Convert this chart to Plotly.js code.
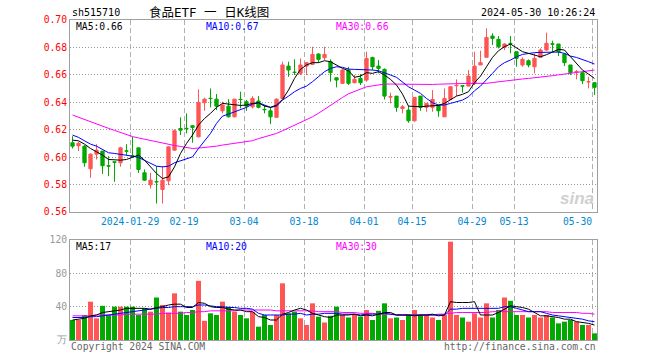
<!DOCTYPE html>
<html><head><meta charset="utf-8">
<script src="https://cdn.plot.ly/plotly-3.0.1.min.js"></script>
<style>html,body{margin:0;padding:0;background:#fff}#chart{width:660px;height:360px}</style>
</head><body><div id="chart"></div>
<script>
const dates = ['2024-01-15','2024-01-16','2024-01-17','2024-01-18','2024-01-19','2024-01-22','2024-01-23','2024-01-24','2024-01-25','2024-01-26',
'2024-01-29','2024-01-30','2024-01-31','2024-02-01','2024-02-02','2024-02-05','2024-02-06','2024-02-07','2024-02-08','2024-02-19',
'2024-02-20','2024-02-21','2024-02-22','2024-02-23','2024-02-26','2024-02-27','2024-02-28','2024-02-29','2024-03-01','2024-03-04',
'2024-03-05','2024-03-06','2024-03-07','2024-03-08','2024-03-11','2024-03-12','2024-03-13','2024-03-14','2024-03-15','2024-03-18',
'2024-03-19','2024-03-20','2024-03-21','2024-03-22','2024-03-25','2024-03-26','2024-03-27','2024-03-28','2024-03-29','2024-04-01',
'2024-04-02','2024-04-03','2024-04-08','2024-04-09','2024-04-10','2024-04-11','2024-04-12','2024-04-15','2024-04-16','2024-04-17',
'2024-04-18','2024-04-19','2024-04-22','2024-04-23','2024-04-24','2024-04-25','2024-04-26','2024-04-29','2024-04-30','2024-05-06',
'2024-05-07','2024-05-08','2024-05-09','2024-05-10','2024-05-13','2024-05-14','2024-05-15','2024-05-16','2024-05-17','2024-05-20',
'2024-05-21','2024-05-22','2024-05-23','2024-05-24','2024-05-27','2024-05-28','2024-05-29','2024-05-30'];

const openP = [.6105,.6083,.6080,.5915,.6022,.6044,.5937,.5966,.5959,.6046,
.6010,.6068,.5886,.5798,.5822,.5764,.5827,.6051,.6209,.6210,
.6229,.6148,.6397,.6429,.6423,.6338,.6372,.6294,.6422,.6404,
.6367,.6409,.6348,.6338,.6290,.6428,.6664,.6619,.6611,.6664,
.6676,.6752,.6725,.6696,.6579,.6538,.6635,.6543,.6574,.6562,
.6727,.6664,.6640,.6438,.6445,.6355,.6343,.6265,.6445,.6363,
.6363,.6380,.6294,.6421,.6521,.6521,.6518,.6538,.6672,.6728,
.6883,.6859,.6800,.6830,.6769,.6672,.6703,.6659,.6728,.6781,
.6826,.6825,.6752,.6672,.6622,.6616,.6549,.6543];
const highP = [.6153,.6112,.6088,.6027,.6095,.6044,.6007,.5966,.6075,.6095,
.6148,.6068,.5910,.5886,.5934,.5934,.6075,.6202,.6290,.6319,
.6234,.6494,.6433,.6501,.6460,.6404,.6423,.6423,.6477,.6416,
.6445,.6445,.6380,.6363,.6428,.6696,.6696,.6713,.6720,.6689,
.6805,.6757,.6805,.6713,.6582,.6640,.6659,.6599,.6606,.6769,
.6732,.6708,.6647,.6470,.6445,.6380,.6372,.6436,.6445,.6392,
.6489,.6380,.6501,.6518,.6567,.6526,.6635,.6769,.6776,.6939,
.6903,.6883,.6830,.6883,.6769,.6727,.6713,.6757,.6793,.6908,
.6849,.6825,.6757,.6672,.6635,.6616,.6586,.6543];
const lowP = [.6063,.6044,.5930,.5849,.5983,.5878,.5861,.5820,.5930,.6015,
.6002,.5886,.5827,.5771,.5662,.5662,.5796,.6046,.6161,.6173,
.6105,.6144,.6338,.6363,.6343,.6319,.6290,.6290,.6355,.6338,
.6355,.6355,.6319,.6241,.6290,.6428,.6586,.6599,.6599,.6599,
.6672,.6689,.6708,.6550,.6509,.6533,.6526,.6538,.6526,.6550,
.6635,.6611,.6421,.6392,.6331,.6319,.6251,.6258,.6338,.6331,
.6331,.6294,.6294,.6416,.6445,.6470,.6518,.6526,.6672,.6728,
.6818,.6793,.6781,.6757,.6659,.6659,.6655,.6611,.6728,.6776,
.6769,.6737,.6664,.6599,.6567,.6533,.6501,.6453];
const closeP = [.6080,.6100,.5959,.6022,.6051,.5937,.5935,.5963,.6068,.6044,
.6007,.5910,.5832,.5832,.5820,.5832,.6075,.6192,.6197,.6208,
.6217,.6399,.6423,.6427,.6372,.6380,.6294,.6423,.6420,.6372,
.6428,.6363,.6346,.6294,.6423,.6672,.6635,.6618,.6672,.6689,
.6749,.6713,.6749,.6616,.6562,.6635,.6538,.6567,.6543,.6720,
.6659,.6647,.6445,.6441,.6363,.6367,.6265,.6436,.6363,.6392,
.6421,.6338,.6428,.6513,.6523,.6518,.6591,.6664,.6689,.6873,
.6866,.6805,.6825,.6828,.6720,.6713,.6672,.6720,.6781,.6830,
.6824,.6769,.6689,.6616,.6624,.6557,.6550,.6509];

const ma5 = [.6124,.6119,.6095,.6063,.6039,.6015,.5983,.5978,.5978,.5983,
.6002,.6015,.5978,.5929,.5881,.5844,.5856,.5929,.6027,.6100,
.6161,.6234,.6282,.6319,.6363,.6392,.6387,.6377,.6377,.6380,
.6392,.6397,.6372,.6363,.6380,.6421,.6489,.6574,.6640,.6672,
.6689,.6689,.6703,.6696,.6672,.6647,.6630,.6582,.6591,.6616,
.6611,.6623,.6599,.6567,.6526,.6460,.6372,.6367,.6367,.6372,
.6372,.6377,.6392,.6421,.6445,.6458,.6477,.6543,.6591,.6659,
.6727,.6776,.6805,.6825,.6800,.6769,.6757,.6745,.6732,.6747,
.6769,.6786,.6781,.6732,.6684,.6635,.6606,.6574];
const ma10 = [.6161,.6144,.6119,.6095,.6080,.6056,.6032,.6027,.6022,.6015,
.6007,.5998,.5978,.5959,.5934,.5929,.5934,.5959,.5973,.5983,
.6002,.6063,.6119,.6173,.6246,.6299,.6314,.6331,.6348,.6363,
.6387,.6397,.6380,.6363,.6372,.6416,.6445,.6477,.6501,.6518,
.6550,.6586,.6623,.6647,.6659,.6655,.6642,.6640,.6640,.6635,
.6635,.6630,.6616,.6599,.6582,.6550,.6513,.6489,.6465,.6428,
.6397,.6380,.6380,.6392,.6404,.6416,.6440,.6484,.6518,.6562,
.6611,.6659,.6689,.6708,.6732,.6749,.6757,.6762,.6764,.6766,
.6769,.6766,.6757,.6737,.6727,.6713,.6696,.6679];
const ma30 = [.6307,.6290,.6275,.6258,.6243,.6226,.6210,.6195,.6180,.6163,
.6150,.6140,.6130,.6120,.6110,.6102,.6095,.6085,.6078,.6070,
.6063,.6066,.6070,.6075,.6080,.6088,.6095,.6102,.6110,.6115,
.6120,.6135,.6148,.6160,.6173,.6192,.6212,.6233,.6253,.6273,
.6294,.6320,.6350,.6378,.6405,.6435,.6462,.6480,.6497,.6513,
.6520,.6527,.6533,.6533,.6532,.6531,.6531,.6530,.6530,.6530,
.6530,.6532,.6534,.6536,.6538,.6538,.6538,.6538,.6538,.6538,
.6544,.6550,.6556,.6562,.6566,.6570,.6574,.6578,.6582,.6588,
.6594,.6600,.6606,.6612,.6618,.6624,.6629,.6635];

const volume = [24,24,30,46,26,41,30,40,40,40,
40,30,38,34,51,42,33,56,34,30,
36,71,23,32,30,46,40,34,30,26,
34,16,30,18,30,68,32,34,26,18,
44,28,21,29,40,30,27,31,28,36,
24,35,44,26,27,24,30,36,30,30,
27,24,30,118,30,27,22,32,27,44,
27,36,51,47,30,30,27,30,27,30,
27,20,22,24,22,18,18,8];
const volMa5 = [24,25,26,29,30,33,34,35,36,38,
38,38,38,37,39,40,42,43,43,39,
39,45,44,40,39,39,37,36,36,34,
34,28,27,24,24,31,33,36,38,36,
32,30,28,27,30,30,30,31,29,30,
29,31,33,33,30,30,30,29,30,30,
31,29,30,46,45,45,45,46,30,30,
30,33,37,41,40,39,37,33,29,29,
28,27,25,25,22,21,20,18];
const volMa10 = [27,27,27,28,28,29,30,31,32,33,
34,35,36,37,38,39,39,40,40,40,
40,42,42,41,40,40,39,39,38,38,
37,32,30,30,30,30,31,31,32,30,
31,31,32,32,32,31,31,31,30,31,
31,31,32,31,30,30,30,30,30,30,
30,30,30,37,37,38,38,38,38,38,
38,38,40,40,38,36,34,34,34,32,
30,29,28,27,26,25,23,22];
const volMa30 = [29,29,29,29,30,30,30,30,30,31,
31,31,31,31,31,32,32,32,32,33,
33,34,34,35,35,35,35,35,36,36,
36,36,36,36,35,35,35,35,35,35,
35,34,34,34,34,33,33,33,32,32,
32,31,31,31,30,30,30,30,30,30,
30,31,31,32,33,33,33,33,33,33,
34,34,34,34,34,34,34,34,34,34,
33,33,33,33,33,32,32,31];

const tickDates = ['2024-01-29','2024-02-19','2024-03-04','2024-03-18','2024-04-01','2024-04-15','2024-04-29','2024-05-13','2024-05-30'];
const tickLabels = ['2024-01-29','02-19','03-04','03-18','04-01','04-15','04-29','05-13','05-30'];
const priceTicks = [0.56,0.58,0.60,0.62,0.64,0.66,0.68,0.70];
const volTicks = [0,40,80,120];
const volTickText = ['万','40','80','120'];

const idx = dates.map((d,i)=>i);
const up = '#ff5555', down = '#00a800';
const volColors = closeP.map((c,i)=> c >= openP[i] ? up : down);
const tickPos = tickDates.map(d => dates.indexOf(d) - 0.4);
// last label sits left of its gridline (kept inside the frame)
const tickText = tickLabels.map((t,i)=> i === tickLabels.length-1 ? t + '\u00a0'.repeat(5) : t);
const mono = 'DejaVu Sans Mono, monospace';

function line(y, color, xa, ya){
  return {type:'scatter', mode:'lines', x:idx, y:y, xaxis:xa, yaxis:ya, line:{color:color, width:1}, hoverinfo:'skip'};
}
const traces = [
  {type:'candlestick', x:idx, open:openP, high:highP, low:lowP, close:closeP, xaxis:'x', yaxis:'y',
   increasing:{line:{color:up,width:1}, fillcolor:up}, decreasing:{line:{color:down,width:1}, fillcolor:down},
   whiskerwidth:0, hoverinfo:'skip'},
  line(ma30,'#ff00ff','x','y'), line(ma10,'#0000ff','x','y'), line(ma5,'#000000','x','y'),
  {type:'bar', x:idx, y:volume, xaxis:'x2', yaxis:'y2', marker:{color:volColors, line:{width:0}}, hoverinfo:'skip'},
  line(volMa30,'#ff00ff','x2','y2'), line(volMa10,'#0000ff','x2','y2'), line(volMa5,'#000000','x2','y2')
];

const px = x => (x-70)/527, py = y => (340-y)/320;
function ann(text, x, y, anchor, color, size, fam){
  return {text:text, x:px(x), y:py(y), xref:'paper', yref:'paper', xanchor:anchor, yanchor:'middle', showarrow:false,
          font:{family:fam||mono, size:size||9.7, color:color}};
}
const gridX = {showgrid:true, gridcolor:'#b0b0b0', gridwidth:1, griddash:'5px,3px', showline:true, mirror:true,
  linecolor:'#a0a0a0', linewidth:1, ticks:'', zeroline:false, fixedrange:true, tickvals:tickPos};
const layout = {
  width:660, height:360, margin:{l:70, r:63, t:20, b:20}, paper_bgcolor:'#fff', plot_bgcolor:'#fff',
  showlegend:false, hovermode:false, bargap:0.17, boxgap:0.22,
  xaxis: Object.assign({}, gridX, {domain:[0,1], anchor:'y', range:[-0.42,87.42], ticktext:tickText,
    tickfont:{family:mono, size:9.7, color:'#0088d0'}, rangeslider:{visible:false}}),
  xaxis2: Object.assign({}, gridX, {domain:[0,1], anchor:'y2', matches:'x', range:[-0.42,87.42], showticklabels:false}),
  yaxis: {domain:[0.4,1], range:[0.56,0.70], tickvals:priceTicks, ticktext:priceTicks.map(v=>v.toFixed(2)),
    showgrid:true, gridcolor:'#999', griddash:'1px,2px', showline:true, mirror:true, linecolor:'#a0a0a0',
    ticks:'', zeroline:false, fixedrange:true, tickfont:{family:mono, size:9.7, color:'#ff0000'}},
  yaxis2: {domain:[0,0.3125], range:[0,120], tickvals:volTicks, ticktext:volTickText,
    showgrid:true, gridcolor:'#999', griddash:'1px,2px', showline:true, mirror:true, linecolor:'#a0a0a0',
    ticks:'', zeroline:false, fixedrange:true, tickfont:{family:mono, size:9.7, color:'#999'}},
  annotations: [
    ann('sh515710', 70, 12.5, 'left', '#000', 10),
    ann('食品ETF 一 日K线图', 209, 12.5, 'center', '#000', 12.5, 'DejaVu Sans Mono, Noto Sans CJK SC'),
    ann('2024-05-30 10:26:24', 597, 12.5, 'right', '#000', 10),
    ann('MA5:0.66', 74, 26, 'left', '#000'),
    ann('MA10:0.67', 204, 26, 'left', '#0000ff'),
    ann('MA30:0.66', 334, 26, 'left', '#ff00ff'),
    ann('MA5:17', 74, 246.7, 'left', '#000'),
    ann('MA10:20', 204, 246.7, 'left', '#0000ff'),
    ann('MA30:30', 334, 246.7, 'left', '#ff00ff'),
    ann('Copyright 2024 SINA.COM', 69, 346, 'left', '#666'),
    ann('http://finance.sina.com.cn', 598, 346, 'right', '#666'),
    ann('<b><i>sina</i></b>', 596, 198, 'right', '#d0d0d0', 17, 'Liberation Sans, sans-serif')
  ]
};
Plotly.newPlot('chart', traces, layout, {staticPlot:true, displayModeBar:false});
</script></body></html>
